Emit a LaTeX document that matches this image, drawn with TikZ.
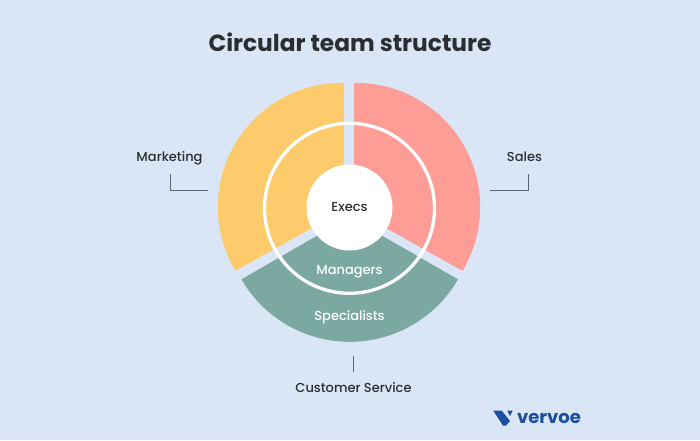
\documentclass[tikz,border=0pt]{standalone}
\usepackage{fontspec}
\setmainfont{Poppins}
\newfontfamily\medfont{Poppins Medium}
\definecolor{bgc}{HTML}{DAE6F5}
\definecolor{yel}{HTML}{FDCB6B}
\definecolor{pnk}{HTML}{FD9D96}
\definecolor{grn}{HTML}{7BA8A1}
\definecolor{ink}{HTML}{2A2E33}
\definecolor{lin}{HTML}{5A6670}
\definecolor{vblue}{HTML}{1D4F9F}
\tikzset{
  lbl/.style={font=\medfont\fontsize{13}{15}\selectfont,text=ink,inner sep=0pt,anchor=center},
  wlbl/.style={font=\medfont\fontsize{13}{15}\selectfont,text=white,inner sep=0pt,anchor=center},
  leader/.style={draw=lin,line width=1pt}
}
\begin{document}
\begin{tikzpicture}[x=1pt,y=1pt]
\useasboundingbox (0,0) rectangle (700,440);
\fill[bgc] (0,0) rectangle (700,440);
% yellow sector
\fill[yel] (344,357) arc[start angle=89,end angle=211,radius=124] -- (344,230) -- cycle;
% pink sector
\fill[pnk] (354,357) arc[start angle=91,end angle=-31,radius=124] -- (354,230) -- cycle;
% green sector
\fill[grn] (241.5,160.7) arc[start angle=210,end angle=330,radius=125] -- (349.5,223) -- cycle;
% ring
\draw[white,line width=3.3pt] (349.5,231.7) circle[radius=85];
% labels
\node[circle,fill=white,minimum size=86pt,inner sep=0pt,font=\medfont\fontsize{13}{15}\selectfont,text=ink] (execs) at (349.5,232.5) {Execs};
\node[font=\fontsize{23.3}{28}\selectfont\bfseries,text=ink,inner sep=0pt] (title) at (350,398) {Circular team structure};
\node[wlbl] (managers) at (349.5,168.5) {Managers};
\node[wlbl] (specialists) at (349.5,122.5) {Specialists};
\node[lbl] (marketing) at (169.5,282) {Marketing};
\node[lbl] (sales) at (524.5,283) {Sales};
\node[lbl] (service) at (353.5,52) {Customer Service};
\coordinate (m1) at (170,266); \coordinate (m2) at (170,250); \coordinate (m3) at (208,250);
\coordinate (s1) at (528,266); \coordinate (s2) at (528,250); \coordinate (s3) at (490,250);
\coordinate (c1) at (353,84); \coordinate (c2) at (353,68);
\draw[leader] (m1) -- (m2) -- (m3);
\draw[leader] (s1) -- (s2) -- (s3);
\draw[leader] (c1) -- (c2);
% logo
\fill[vblue] (493.3,29.3) -- (501.7,29.3) -- (510,19) -- (506,14.3) -- (503,14.3) -- cycle;
\fill[vblue] (507.3,29.3) -- (512.7,29.3) -- (510,24) -- cycle;
\node[font=\fontsize{18}{20}\selectfont\bfseries,text=vblue,inner sep=0pt] (logo) at (549,22) {vervoe};
\end{tikzpicture}
\end{document}
